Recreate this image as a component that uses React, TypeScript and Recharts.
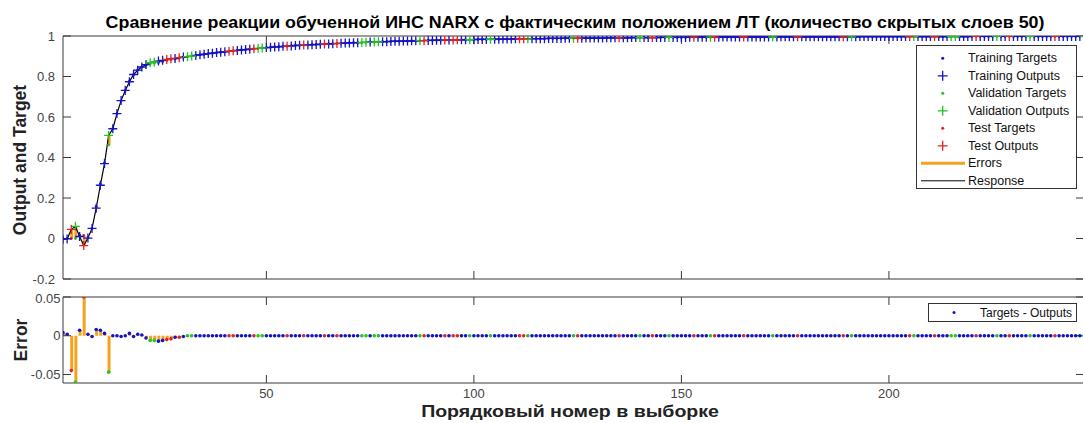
import React from 'react';
import { ComposedChart, XAxis, YAxis, Line, Scatter, Bar } from 'recharts';

// ---- data ----
const targets = [
  0, 0, 0, 0, 0.017, 0.015, 0.004, 0.049, 0.158, 0.27,
  0.373, 0.462, 0.542, 0.617, 0.68, 0.731, 0.777, 0.809, 0.833, 0.848,
  0.856, 0.862, 0.866, 0.869, 0.874, 0.879, 0.884, 0.887, 0.891, 0.895,
  0.898, 0.901, 0.904, 0.907, 0.91, 0.913, 0.915, 0.918, 0.92, 0.922,
  0.925, 0.927, 0.929, 0.931, 0.933, 0.935, 0.937, 0.939, 0.941, 0.943,
  0.944, 0.946, 0.947, 0.949, 0.95, 0.951, 0.953, 0.954, 0.955, 0.956,
  0.957, 0.958, 0.959, 0.96, 0.961, 0.962, 0.963, 0.964, 0.965, 0.966,
  0.967, 0.967, 0.968, 0.969, 0.97, 0.97, 0.971, 0.972, 0.972, 0.973,
  0.974, 0.974, 0.975, 0.975, 0.976, 0.976, 0.977, 0.977, 0.978, 0.978,
  0.979, 0.979, 0.98, 0.98, 0.98, 0.981, 0.981, 0.982, 0.982, 0.982,
  0.983, 0.983, 0.983, 0.984, 0.984, 0.984, 0.985, 0.985, 0.985, 0.986,
  0.986, 0.986, 0.986, 0.987, 0.987, 0.987, 0.987, 0.988, 0.988, 0.988,
  0.988, 0.989, 0.989, 0.989, 0.989, 0.989, 0.99, 0.99, 0.99, 0.99,
  0.99, 0.991, 0.991, 0.991, 0.991, 0.991, 0.991, 0.992, 0.992, 0.992,
  0.992, 0.992, 0.992, 0.992, 0.993, 0.993, 0.993, 0.993, 0.993, 0.993,
  0.993, 0.994, 0.994, 0.994, 0.994, 0.994, 0.994, 0.994, 0.994, 0.995,
  0.995, 0.995, 0.995, 0.995, 0.995, 0.995, 0.995, 0.995, 0.995, 0.995,
  0.995, 0.995, 0.995, 0.996, 0.996, 0.996, 0.996, 0.996, 0.996, 0.996,
  0.996, 0.996, 0.996, 0.996, 0.996, 0.996, 0.996, 0.996, 0.996, 0.996,
  0.996, 0.996, 0.997, 0.997, 0.997, 0.997, 0.997, 0.997, 0.997, 0.997,
  0.997, 0.997, 0.997, 0.997, 0.997, 0.997, 0.997, 0.997, 0.997, 0.997,
  0.997, 0.997, 0.997, 0.997, 0.997, 0.997, 0.997, 0.997, 0.997, 0.998,
  0.998, 0.998, 0.998, 0.998, 0.998, 0.998, 0.998, 0.998, 0.998, 0.998,
  0.998, 0.998, 0.998, 0.998, 0.998, 0.998, 0.998, 0.998, 0.998, 0.998,
  0.998, 0.998, 0.998, 0.998, 0.998, 0.998, 0.998,
];

// error = target - output
const errors = [
  0.004, 0.002, -0.045, -0.06, 0.007, 0.05, 0.002, -0.001, 0.008, 0.007,
  0.003, -0.047, 0, 0, -0.001, 0, 0.003, -0.001, 0.002, 0.001,
  -0.003, -0.006, -0.006, -0.007, -0.006, -0.005, -0.004, -0.002, -0.002, -0.001,
  0, 0, 0, 0, 0, 0, 0, 0, 0, 0,
  0, 0, 0, 0, 0, 0, 0, 0, 0, 0,
  0, 0, 0, 0, 0, 0, 0, 0, 0, 0,
  0, 0, 0, 0, 0, 0, 0, 0, 0, 0,
  0, 0, 0, 0, 0, 0, 0, 0, 0, 0,
  0, 0, 0, 0, 0, 0, 0, 0, 0, 0,
  0, 0, 0, 0, 0, 0, 0, 0, 0, 0,
  0, 0, 0, 0, 0, 0, 0, 0, 0, 0,
  0, 0, 0, 0, 0, 0, 0, 0, 0, 0,
  0, 0, 0, 0, 0, 0, 0, 0, 0, 0,
  0, 0, 0, 0, 0, 0, 0, 0, 0, 0,
  0, 0, 0, 0, 0, 0, 0, 0, 0, 0,
  0, 0, 0, 0, 0, 0, 0, 0, 0, 0,
  0, 0, 0, 0, 0, 0, 0, 0, 0, 0,
  0, 0, 0, 0, 0, 0, 0, 0, 0, 0,
  0, 0, 0, 0, 0, 0, 0, 0, 0, 0,
  0, 0, 0, 0, 0, 0, 0, 0, 0, 0,
  0, 0, 0, 0, 0, 0, 0, 0, 0, 0,
  0, 0, 0, 0, 0, 0, 0, 0, 0, 0,
  0, 0, 0, 0, 0, 0, 0, 0, 0, 0,
  0, 0, 0, 0, 0, 0, 0, 0, 0, 0,
  0, 0, 0, 0, 0, 0, 0,
];

// T = training, V = validation, E = test
const splits =
  'TTEVTETTTT' + 'TVTTTTTTTT' + 'TVVTTEETET' + 'VVTTTTTTTT' + 'EETTTTEVVT' +
  'TTTTETTTET' + 'TTTETTETTT' + 'TTVVTVVTTT' + 'TTTTTTVETT' + 'TTETEETTVT' +
  'TTTVTTTTTT' + 'EEVTTTTTTT' + 'TTTVETTTTT' + 'TTTTETTTTV' + 'TTETTTVTTT' +
  'TTETTTVETT' + 'TTTTETTTTT' + 'TVTTTTTETT' + 'TTTTTTTTET' + 'VTTTTTTTTT' +
  'TTTTEVTTTT' + 'ETTTVVTTTT' + 'ETTTTVTTET' + 'TTTVTTTTTE' + 'TTTTTTV';

const xTicks = [50, 100, 150, 200];
const topYTicks = [-0.2, 0, 0.2, 0.4, 0.6, 0.8, 1];
const errYTicks = [-0.05, 0, 0.05];
const xDomain = [1, 247];
const topYDomain = [-0.2, 1];
const errYDomain = [-0.061, 0.05];

const title = 'Сравнение реакции обученной ИНС NARX с фактическим положением ЛТ (количество скрытых слоев 50)';
const xLabel = 'Порядковый номер в выборке';
const topYLabel = 'Output and Target';
const errYLabel = 'Error';
const topLegend = [
  { name: 'Training Targets', kind: 'dot', split: 'T' },
  { name: 'Training Outputs', kind: 'plus', split: 'T' },
  { name: 'Validation Targets', kind: 'dot', split: 'V' },
  { name: 'Validation Outputs', kind: 'plus', split: 'V' },
  { name: 'Test Targets', kind: 'dot', split: 'E' },
  { name: 'Test Outputs', kind: 'plus', split: 'E' },
  { name: 'Errors', kind: 'errline', split: '' },
  { name: 'Response', kind: 'line', split: '' },
];
const errLegendName = 'Targets - Outputs';

// ---- styling ----
const COLORS: Record<string, string> = { T: '#1414c4', V: '#22c422', E: '#e02424' };
const ORANGE = '#f4a21c';
const AXIS = '#3a3a3a';
const FONT = '"Liberation Sans", Arial, Helvetica, sans-serif';
const tickStyle = { fill: '#444', fontSize: 13, fontFamily: FONT };

const rows = targets.map((t, k) => {
  const o = t - errors[k];
  return {
    i: k + 1,
    target: t,
    output: o,
    errRange: [Math.min(t, o), Math.max(t, o)],
    err: errors[k],
    split: splits[k],
  };
});
const bySplit = (s: string) => rows.filter((r) => r.split === s);

const plusShape = (color: string) => (props: any) => {
  const { cx, cy } = props;
  if (cx == null || cy == null) return <g />;
  return (
    <path
      d={`M${cx - 4.5},${cy}H${cx + 4.5}M${cx},${cy - 4.5}V${cy + 4.5}`}
      stroke={color}
      strokeWidth={1.3}
      fill="none"
    />
  );
};
const dotShape = (color: string, r: number) => (props: any) => {
  const { cx, cy } = props;
  if (cx == null || cy == null) return <g />;
  return <circle cx={cx} cy={cy} r={r} fill={color} />;
};
const empty = () => '';

function TopChart() {
  return (
    <ComposedChart
      width={1094}
      height={290}
      data={rows}
      margin={{ top: 35, right: 0, bottom: 0, left: 13 }}
    >
      <XAxis xAxisId="b" type="number" dataKey="i" domain={xDomain} ticks={xTicks}
        tickSize={-8} tickFormatter={empty} height={11} stroke={AXIS} allowDataOverflow />
      <XAxis xAxisId="t" orientation="top" type="number" dataKey="i" domain={xDomain} ticks={xTicks}
        tickSize={-8} tickFormatter={empty} height={1} stroke={AXIS} allowDataOverflow />
      <YAxis yAxisId="l" type="number" domain={topYDomain} ticks={topYTicks} width={50}
        tickSize={-8} tickMargin={16} tick={tickStyle} stroke={AXIS} allowDataOverflow />
      <YAxis yAxisId="r" orientation="right" type="number" domain={topYDomain} ticks={topYTicks} width={10}
        tickSize={-8} tickFormatter={empty} stroke={AXIS} allowDataOverflow />
      {['T', 'V', 'E'].map((s) => (
        <Scatter key={'tg' + s} xAxisId="b" yAxisId="l" data={bySplit(s)} dataKey="target"
          shape={dotShape(COLORS[s], 1.4)} isAnimationActive={false} />
      ))}
      {['T', 'V', 'E'].map((s) => (
        <Scatter key={'op' + s} xAxisId="b" yAxisId="l" data={bySplit(s)} dataKey="output"
          shape={plusShape(COLORS[s])} isAnimationActive={false} />
      ))}
      <Bar xAxisId="b" yAxisId="l" dataKey="errRange" fill={ORANGE} barSize={3} isAnimationActive={false} />
      <Line xAxisId="b" yAxisId="l" type="linear" dataKey="output" stroke="#000" strokeWidth={1.2}
        dot={false} activeDot={false} isAnimationActive={false} />
    </ComposedChart>
  );
}

function ErrorChart() {
  return (
    <ComposedChart
      width={1094}
      height={133}
      data={rows}
      margin={{ top: 6, right: 0, bottom: 0, left: 13 }}
    >
      <XAxis xAxisId="b" type="number" dataKey="i" domain={xDomain} ticks={xTicks}
        tickSize={-8} tickMargin={14} tick={tickStyle} height={40} stroke={AXIS} allowDataOverflow />
      <XAxis xAxisId="t" orientation="top" type="number" dataKey="i" domain={xDomain} ticks={xTicks}
        tickSize={-8} tickFormatter={empty} height={1} stroke={AXIS} allowDataOverflow />
      <YAxis yAxisId="l" type="number" domain={errYDomain} ticks={errYTicks} width={50}
        tickSize={-8} tickMargin={10.5} tick={tickStyle} stroke={AXIS} allowDataOverflow />
      <YAxis yAxisId="r" orientation="right" type="number" domain={errYDomain} ticks={errYTicks} width={10}
        tickSize={-8} tickFormatter={empty} stroke={AXIS} allowDataOverflow />
      <Bar xAxisId="b" yAxisId="l" dataKey="err" fill={ORANGE} barSize={3} isAnimationActive={false} />
      {['T', 'V', 'E'].map((s) => (
        <Scatter key={'er' + s} xAxisId="b" yAxisId="l" data={bySplit(s)} dataKey="err"
          shape={dotShape(COLORS[s], 1.8)} isAnimationActive={false} />
      ))}
    </ComposedChart>
  );
}

function LegendMarker({ kind, split, x, y }: any) {
  if (kind === 'dot') return <circle cx={x} cy={y} r={1.5} fill={COLORS[split]} />;
  if (kind === 'plus')
    return <path d={`M${x - 5},${y}H${x + 5}M${x},${y - 5}V${y + 5}`} stroke={COLORS[split]} strokeWidth={1.3} />;
  if (kind === 'errline') return <line x1={921} x2={965} y1={y} y2={y} stroke={ORANGE} strokeWidth={3} />;
  return <line x1={921} x2={965} y1={y} y2={y} stroke="#000" strokeWidth={1} />;
}

function Overlay() {
  return (
    <svg width={1083} height={423} style={{ position: 'absolute', left: 0, top: 0, pointerEvents: 'none' }}>
      <text x={0} y={0} transform="translate(575,28) scale(1.115,1)" textAnchor="middle" fontFamily={FONT}
        fontWeight="bold" fontSize={16} fill="#000">
        {title}
      </text>
      <text x={0} y={0} transform="translate(570,417) scale(1.15,1)" textAnchor="middle" fontFamily={FONT}
        fontWeight="bold" fontSize={17} fill="#222">
        {xLabel}
      </text>
      <text x={0} y={0} transform="translate(26,160) rotate(-90)" textAnchor="middle" fontFamily={FONT}
        fontWeight="bold" fontSize={17.5} fill="#222">
        {topYLabel}
      </text>
      <text x={0} y={0} transform="translate(27,340) rotate(-90)" textAnchor="middle" fontFamily={FONT}
        fontWeight="bold" fontSize={17.5} fill="#222">
        {errYLabel}
      </text>

      <rect x={916.5} y={45.5} width={160} height={143} fill="#fff" stroke="#333" strokeWidth={1} />
      {topLegend.map((e, k) => {
        const y = 58.3 + k * 17.5;
        return (
          <g key={e.name}>
            <LegendMarker kind={e.kind} split={e.split} x={942.7} y={y} />
            <text x={968} y={y} dominantBaseline="central" fontFamily={FONT} fontSize={12.5} fill="#111">
              {e.name}
            </text>
          </g>
        );
      })}

      <rect x={928.5} y={303.5} width={148} height={18} fill="#fff" stroke="#333" strokeWidth={1} />
      <circle cx={954} cy={312.5} r={1.5} fill={COLORS.T} />
      <text x={980} y={312.5} dominantBaseline="central" fontFamily={FONT} fontSize={12} fill="#111">
        {errLegendName}
      </text>
    </svg>
  );
}

export default function App() {
  return (
    <div style={{ position: 'absolute', left: 0, top: 0, width: 1083, height: 423, overflow: 'hidden', background: '#fff' }}>
      <div style={{ position: 'absolute', left: 0, top: 0 }}>
        <TopChart />
      </div>
      <div style={{ position: 'absolute', left: 0, top: 290 }}>
        <ErrorChart />
      </div>
      <Overlay />
    </div>
  );
}
